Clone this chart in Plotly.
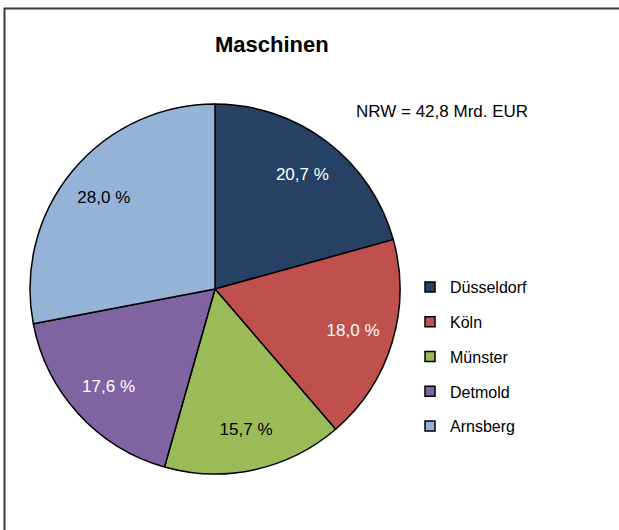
import plotly.graph_objects as go

# Anteile der Regierungsbezirke am Umsatz "Maschinen" (in %)
bezirke = ["Düsseldorf", "Köln", "Münster", "Detmold", "Arnsberg"]
anteile = [20.7, 18.0, 15.7, 17.6, 28.0]
farben = ["#264163", "#C0504D", "#9BBB59", "#8064A2", "#95B3D7"]
textfarben = ["white", "white", "black", "white", "black"]
titel = "Maschinen"
summe_text = "NRW = 42,8 Mrd. EUR"

W, H = 619, 530
fnt = "Liberation Sans, Arial, sans-serif"
pie_dom = dict(x=[30 / W, 400 / W], y=[1 - 474 / H, 1 - 104 / H])

fig = go.Figure()
# the slices
fig.add_trace(go.Pie(
    labels=bezirke, values=anteile, sort=False, direction="clockwise", rotation=0,
    marker=dict(colors=farben, line=dict(color="black", width=1.5)),
    textinfo="none", domain=pie_dom, showlegend=False, hoverinfo="label+value",
))
# same pie again, transparent, with a hole -> labels sit further out like in excel
fig.add_trace(go.Pie(
    labels=bezirke, values=anteile, sort=False, direction="clockwise", rotation=0,
    hole=0.56,
    marker=dict(colors=["rgba(0,0,0,0)"] * len(bezirke), line=dict(width=0)),
    texttemplate="%{value:.1f} %", textposition="inside",
    insidetextorientation="horizontal",
    textfont=dict(family=fnt, size=17, color=textfarben),
    domain=pie_dom, showlegend=False, hoverinfo="skip",
))

# legend entries as separate traces, so the gap between them can be set
for b, c in zip(bezirke, farben):
    fig.add_trace(go.Scatter(
        x=[None], y=[None], mode="markers", name=b, legendgroup=b,
        marker=dict(symbol="square", size=10, color=c, line=dict(color="black", width=1.5)),
    ))

fig.update_layout(
    width=W, height=H, margin=dict(l=0, r=0, t=0, b=0),
    paper_bgcolor="white", plot_bgcolor="white",
    separators=", ",
    font=dict(family=fnt, size=16, color="black"),
    xaxis=dict(visible=False), yaxis=dict(visible=False),
    showlegend=True,
    legend=dict(x=410 / W, y=1 - 270 / H, xanchor="left", yanchor="top",
                tracegroupgap=11, font=dict(size=16), bgcolor="rgba(0,0,0,0)"),
    annotations=[
        dict(text="<b>" + titel + "</b>", x=272 / W, y=1 - 45 / H, xref="paper", yref="paper",
             showarrow=False, font=dict(size=22), xanchor="center", yanchor="middle"),
        dict(text=summe_text, x=442 / W, y=1 - 112 / H, xref="paper", yref="paper",
             showarrow=False, font=dict(size=17), xanchor="center", yanchor="middle"),
    ],
    shapes=[dict(type="rect", xref="paper", yref="paper",
                 x0=4.5 / W, y0=-0.05, x1=1.05, y1=1 - 8.5 / H,
                 line=dict(color="#3a3a3a", width=2))],
)

# no body margin, so the figure sits at the top left corner of the window
fig.write_html("out.html", config={"displayModeBar": False},
               post_script="document.body.style.margin='0';")
